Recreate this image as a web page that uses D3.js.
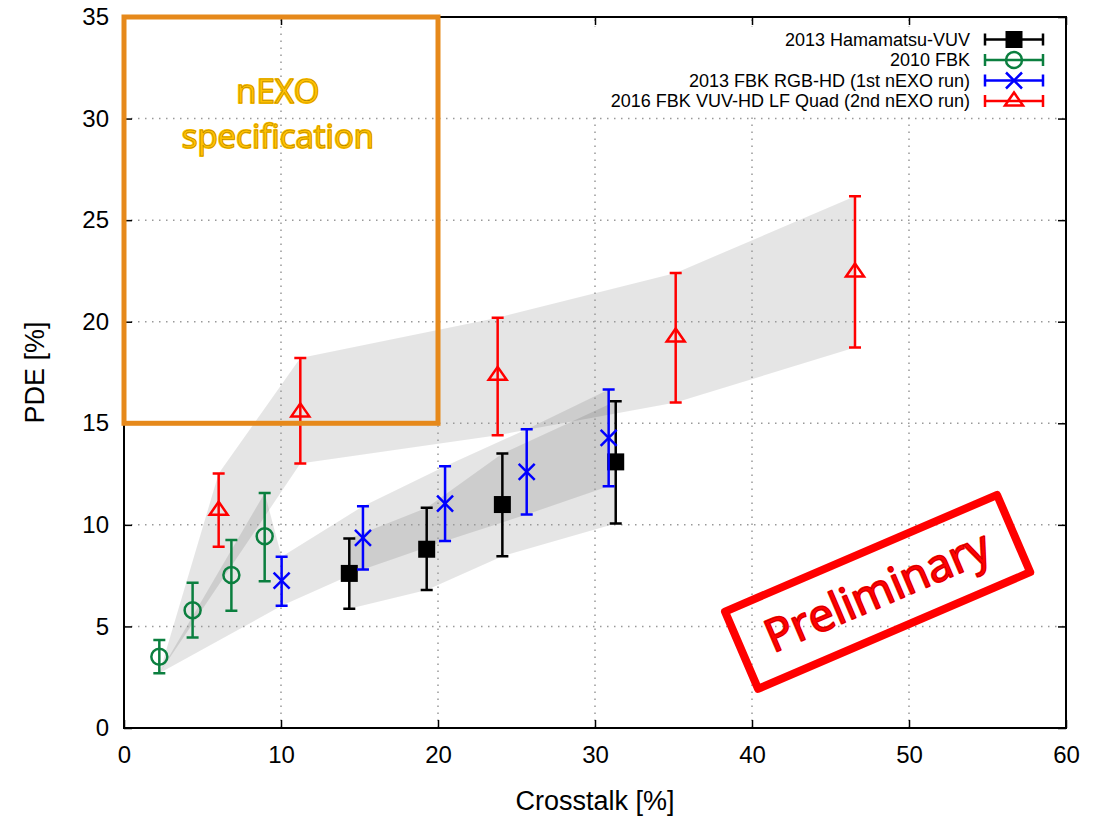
<!DOCTYPE html>
<html>
<head>
<meta charset="utf-8">
<script src="https://cdn.jsdelivr.net/npm/d3@7"></script>
<style>
  body { margin: 0; background: #fff; }
  svg { display: block; font-family: "Liberation Sans", Arial, sans-serif; }
  .axis text { font-size: 24px; fill: #000; }
  .axis line { stroke: #000; stroke-width: 1.5; }
  .axis path { display: none; }
  .grid line { stroke: #999; stroke-width: 1.5; stroke-dasharray: 1.5,5.5; }
</style>
</head>
<body>
<div id="chart"></div>
<script>
/*
  PDE vs crosstalk for several SiPM runs, with nEXO spec box
*/

var xTicks = [0, 10, 20, 30, 40, 50, 60];
var yTicks = [0, 5, 10, 15, 20, 25, 30, 35];

// 2013 Hamamatsu-VUV
var hamX  = [14.35, 19.28, 24.10, 31.32];
var hamY  = [7.61, 8.80, 11.00, 13.10];
var hamLo = [5.87, 6.79, 8.46, 10.07];
var hamHi = [9.33, 10.84, 13.51, 16.08];

// 2010 FBK
var fbkX  = [2.25, 4.37, 6.84, 8.96];
var fbkY  = [3.51, 5.80, 7.53, 9.44];
var fbkLo = [2.69, 4.46, 5.77, 7.23];
var fbkHi = [4.33, 7.15, 9.25, 11.57];

// 2013 FBK RGB-HD (1st nEXO run)
var rgbX  = [10.04, 15.22, 20.45, 25.65, 30.87];
var rgbY  = [7.25, 9.36, 11.05, 12.61, 14.28];
var rgbLo = [6.02, 7.80, 9.20, 10.51, 11.90];
var rgbHi = [8.43, 10.92, 12.89, 14.71, 16.66];

// 2016 FBK VUV-HD LF Quad (2nd nEXO run)
var vuvX  = [6.03, 11.23, 23.80, 35.14, 46.56];
var vuvY  = [10.72, 15.56, 17.36, 19.25, 22.45];
var vuvLo = [8.92, 13.02, 14.41, 16.02, 18.73];
var vuvHi = [12.53, 18.21, 20.20, 22.40, 26.18];

// grey trend bands (polygon vertices, data coords)
var bandVuv = [[2.25, 2.69], [6.03, 12.53], [11.23, 18.21], [23.80, 20.20], [35.14, 22.40], [46.56, 26.18],
               [46.56, 18.73], [35.14, 16.02], [23.80, 14.41], [11.23, 13.02]];
var bandFbk = [[2.25, 2.69], [8.96, 11.57], [10.04, 8.43], [15.22, 10.92], [20.45, 12.89], [25.65, 14.71], [30.87, 16.66],
               [30.87, 11.90], [25.65, 10.51], [20.45, 9.20], [15.22, 7.80], [10.04, 6.02]];
var bandHam = [[14.35, 9.33], [19.28, 10.84], [24.10, 13.51], [31.32, 16.08],
               [31.32, 10.07], [24.10, 8.46], [19.28, 6.79], [14.35, 5.87]];

// nEXO specification region
var specX = [0, 20];
var specY = [15, 35];

var legendLabels = ["2013 Hamamatsu-VUV", "2010 FBK", "2013 FBK RGB-HD (1st nEXO run)", "2016 FBK VUV-HD LF Quad (2nd nEXO run)"];

var W = 1094, H = 816;
var margin = {top: 17, right: 28, bottom: 88, left: 124};

var x = d3.scaleLinear().domain([0, 60]).range([margin.left, W - margin.right]);
var y = d3.scaleLinear().domain([0, 35]).range([H - margin.bottom, margin.top]);

var svg = d3.select("#chart").append("svg")
    .attr("width", W)
    .attr("height", H);

svg.append("rect").attr("width", W).attr("height", H).attr("fill", "#fff");

// bands
var poly = d3.line().x(function(d) { return x(d[0]); }).y(function(d) { return y(d[1]); });
[bandVuv, bandFbk, bandHam].forEach(function(b) {
  svg.append("path")
      .attr("d", poly(b) + "Z")
      .attr("fill", "#000")
      .attr("fill-opacity", 0.1);
});

// grid
var grid = svg.append("g").attr("class", "grid");
grid.selectAll(".gx").data(xTicks.slice(1, -1)).enter().append("line")
    .attr("x1", function(d) { return x(d); }).attr("x2", function(d) { return x(d); })
    .attr("y1", y(0)).attr("y2", y(35));
grid.selectAll(".gy").data(yTicks.slice(1, -1)).enter().append("line")
    .attr("y1", function(d) { return y(d); }).attr("y2", function(d) { return y(d); })
    .attr("x1", x(0)).attr("x2", x(60));

// legend background (hides grid behind key)
svg.append("rect")
    .attr("x", 552).attr("y", 27).attr("width", 504).attr("height", 86)
    .attr("fill", "#fff");

// axes
svg.append("g").attr("class", "axis")
    .attr("transform", "translate(0," + y(0) + ")")
    .call(d3.axisBottom(x).tickValues(xTicks).tickSize(-8).tickSizeOuter(0).tickPadding(18));
svg.append("g").attr("class", "axis")
    .attr("transform", "translate(" + x(0) + ",0)")
    .call(d3.axisLeft(y).tickValues(yTicks).tickSize(-8).tickSizeOuter(0).tickPadding(15));
svg.append("g").attr("class", "axis")
    .attr("transform", "translate(0," + y(35) + ")")
    .call(d3.axisTop(x).tickValues(xTicks).tickSize(-8).tickSizeOuter(0).tickFormat(""));
svg.append("g").attr("class", "axis")
    .attr("transform", "translate(" + x(60) + ",0)")
    .call(d3.axisRight(y).tickValues(yTicks).tickSize(-8).tickSizeOuter(0).tickFormat(""));

svg.append("rect")
    .attr("x", x(0)).attr("y", y(35))
    .attr("width", x(60) - x(0)).attr("height", y(0) - y(35))
    .attr("fill", "none").attr("stroke", "#000").attr("stroke-width", 2);

// axis titles
svg.append("text")
    .attr("x", (x(0) + x(60)) / 2).attr("y", 810)
    .attr("text-anchor", "middle")
    .style("font-size", "27px")
    .text("Crosstalk [%]");
svg.append("text")
    .attr("transform", "translate(44," + ((y(0) + y(35)) / 2) + ") rotate(-90)")
    .attr("text-anchor", "middle")
    .style("font-size", "27px")
    .text("PDE [%]");

// markers
function marker(g, type, color) {
  if (type === "square") {
    g.append("rect").attr("x", -8.5).attr("y", -8.5).attr("width", 17).attr("height", 17)
        .attr("fill", color);
  } else if (type === "circle") {
    g.append("circle").attr("r", 8).attr("fill", "none")
        .attr("stroke", color).attr("stroke-width", 2.5);
  } else if (type === "cross") {
    g.append("path").attr("d", "M-8,-8L8,8M-8,8L8,-8")
        .attr("stroke", color).attr("stroke-width", 2.5);
  } else {
    g.append("path").attr("d", "M0,-8.5L-9,4.5L9,4.5Z").attr("fill", "none")
        .attr("stroke", color).attr("stroke-width", 2.5).attr("stroke-linejoin", "miter");
  }
}

var series = [
  {xs: hamX, ys: hamY, lo: hamLo, hi: hamHi, type: "square", color: "#000000"},
  {xs: fbkX, ys: fbkY, lo: fbkLo, hi: fbkHi, type: "circle", color: "#0b7f3f"},
  {xs: rgbX, ys: rgbY, lo: rgbLo, hi: rgbHi, type: "cross", color: "#0000ff"},
  {xs: vuvX, ys: vuvY, lo: vuvLo, hi: vuvHi, type: "triangle", color: "#ff0000"}
];

var cap = 6;
series.forEach(function(s) {
  s.xs.forEach(function(xv, i) {
    var g = svg.append("g");
    var px = x(xv);
    g.append("path")
        .attr("d", "M" + px + "," + y(s.lo[i]) + "V" + y(s.hi[i]) +
                   "M" + (px - cap) + "," + y(s.hi[i]) + "H" + (px + cap) +
                   "M" + (px - cap) + "," + y(s.lo[i]) + "H" + (px + cap))
        .attr("stroke", s.color).attr("stroke-width", 2.5).attr("fill", "none");
    var m = g.append("g").attr("transform", "translate(" + px + "," + y(s.ys[i]) + ")");
    marker(m, s.type, s.color);
  });
});

// nEXO spec box
svg.append("rect")
    .attr("x", x(specX[0])).attr("y", y(specY[1]))
    .attr("width", x(specX[1]) - x(specX[0])).attr("height", y(specY[0]) - y(specY[1]))
    .attr("fill", "none").attr("stroke", "#e6891b").attr("stroke-width", 5);

function glowText(g, txt, px, py, size, color) {
  g.append("text").attr("x", px).attr("y", py).attr("text-anchor", "middle")
      .style("font-family", "'Open Sans', 'Noto Sans', sans-serif").style("font-size", size + "px")
      .attr("fill", color).attr("stroke", color).attr("stroke-width", 2).attr("stroke-linejoin", "round")
      .text(txt);
  g.append("text").attr("x", px).attr("y", py).attr("text-anchor", "middle")
      .style("font-family", "'Open Sans', 'Noto Sans', sans-serif").style("font-size", size + "px")
      .attr("fill", color).attr("stroke", "#000").attr("stroke-width", 0.5).attr("stroke-opacity", 0.4)
      .text(txt);
}

var specG = svg.append("g");
glowText(specG, "nEXO", x(9.8), 103, 33, "#ffc000");
glowText(specG, "specification", x(9.8), 148, 33, "#ffc000");

// Preliminary stamp
var stamp = svg.append("g")
    .attr("transform", "translate(" + x(48.0) + "," + y(6.7) + ") rotate(-23.2)");
stamp.append("rect")
    .attr("x", -148).attr("y", -42).attr("width", 296).attr("height", 84)
    .attr("fill", "none").attr("stroke", "#ff0000").attr("stroke-width", 8)
    .attr("stroke-linejoin", "round");
glowText(stamp, "Preliminary", 0, 15, 45, "#ff0000");

// legend
var legend = svg.append("g");
series.forEach(function(s, i) {
  var ly = 39.5 + i * 20.5;
  legend.append("text")
      .attr("x", 970).attr("y", ly).attr("dy", "0.35em")
      .attr("text-anchor", "end")
      .style("font-size", "18px")
      .text(legendLabels[i]);
  legend.append("path")
      .attr("d", "M985," + ly + "H1043M985," + (ly - 6) + "V" + (ly + 6) + "M1043," + (ly - 6) + "V" + (ly + 6))
      .attr("stroke", s.color).attr("stroke-width", 2.5).attr("fill", "none");
  var m = legend.append("g").attr("transform", "translate(1014," + ly + ")");
  marker(m, s.type, s.color);
});
</script>
</body>
</html>
